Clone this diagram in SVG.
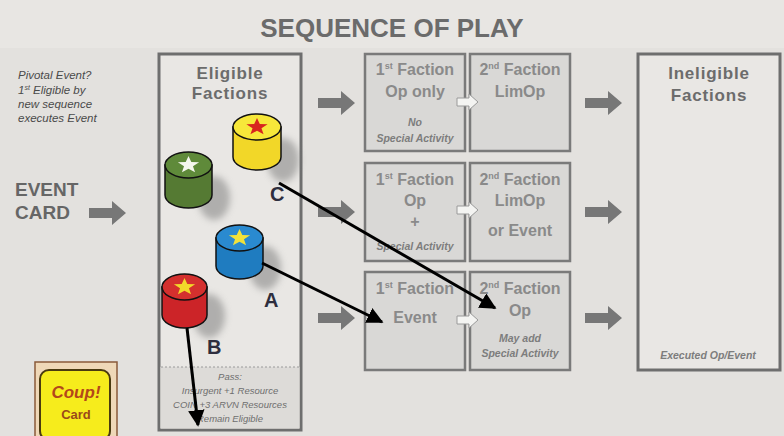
<svg xmlns="http://www.w3.org/2000/svg" width="784" height="436" viewBox="0 0 784 436">
<defs>
<style>
.bold{font-family:"Liberation Sans",Arial,sans-serif;font-weight:bold}
.box{fill:#d9d8d6;stroke:#7a7a7a;stroke-width:2.5}
.big{fill:#e9e7e4;stroke:#6e6e6e;stroke-width:3}
.bt{font-family:"Liberation Sans",Arial,sans-serif;font-weight:bold;font-size:16px;fill:#8a8a8a;text-anchor:middle}
.st{font-family:"Liberation Sans",Arial,sans-serif;font-weight:bold;font-style:italic;font-size:10.5px;fill:#7d7d7d;text-anchor:middle}
.ht{font-family:"Liberation Sans",Arial,sans-serif;font-weight:bold;font-size:17px;fill:#6c6c6c;text-anchor:middle;letter-spacing:0.8px}
.pt{font-family:"Liberation Sans",Arial,sans-serif;font-style:italic;font-size:9.5px;fill:#6e6e6e;text-anchor:middle}
.lt{font-family:"Liberation Sans",Arial,sans-serif;font-style:italic;font-size:11.5px;fill:#4a4a4a}
.lab{font-family:"Liberation Sans",Arial,sans-serif;font-weight:bold;font-size:20px;fill:#2e2e3e}
.ga{fill:#777}
.wa{fill:#f4f4f2;stroke:#9a9a9a;stroke-width:1}
.blk{stroke:#000;stroke-width:3;fill:none;marker-end:url(#ah)}
.cyl{stroke:#111;stroke-width:1.5}
</style>
<path id="garrow" d="M0,-5 H23 V-12 L37,0 L23,12 V5 H0 Z"/>
<path id="warrow" d="M0,-4 H12 V-8 L21,0 L12,8 V4 H0 Z"/>
<path id="star" d="M0,-14 L3.5,-4.8 L13.3,-4.3 L5.6,1.8 L8.2,11.3 L0,5.9 L-8.2,11.3 L-5.6,1.8 L-13.3,-4.3 L-3.5,-4.8 Z"/>
<marker id="ah" viewBox="0 0 10 10" refX="9" refY="5" markerWidth="5.5" markerHeight="5.5" orient="auto" markerUnits="strokeWidth">
<path d="M0,0 L10,5 L0,10 Z" fill="#000"/>
</marker>
<filter id="blur" x="-50%" y="-50%" width="200%" height="200%"><feGaussianBlur stdDeviation="3.5"/></filter>
</defs>

<rect x="0" y="0" width="784" height="436" fill="#e3e1de"/>
<rect x="0" y="0" width="784" height="48" fill="#e8e6e3"/>

<text class="bold" x="392" y="37" font-size="26" fill="#6b6b6b" text-anchor="middle">SEQUENCE OF PLAY</text>

<g id="pivotal">
<text class="lt" x="18" y="79" fill="#7e3535">Pivotal Event?</text>
<text class="lt" x="18" y="94">1<tspan font-size="7" dy="-4">st</tspan><tspan dy="4"> Eligible by</tspan></text>
<text class="lt" x="18" y="108">new sequence</text>
<text class="lt" x="18" y="122">executes Event</text>
</g>

<g id="event-card">
<text class="bold" x="15" y="196" font-size="19" fill="#666">EVENT</text>
<text class="bold" x="15" y="219" font-size="19" fill="#666">CARD</text>
</g>

<g id="coup-card">
<rect x="35" y="362" width="82" height="80" fill="#efd8b8" stroke="#8a5a3a" stroke-width="1.5"/>
<rect x="40" y="370" width="70" height="70" rx="9" fill="#f6ec1c" stroke="#4a3a10" stroke-width="2"/>
<text class="bold" x="76" y="398" font-size="17" font-style="italic" fill="#b3471a" text-anchor="middle">Coup!</text>
<text class="bold" x="76" y="419" font-size="13" fill="#9a4a1a" text-anchor="middle">Card</text>
</g>

<g id="eligible">
<rect class="big" x="159" y="54" width="142" height="376"/>
<rect x="160.5" y="367" width="139" height="61.5" fill="#dddbd8"/>
<line x1="161" y1="367" x2="299" y2="367" stroke="#9a9a9a" stroke-width="1" stroke-dasharray="2,2"/>
<text class="ht" x="230" y="79">Eligible</text>
<text class="ht" x="230" y="99">Factions</text>
<text class="pt" x="230" y="380">Pass:</text>
<text class="pt" x="230" y="394">Insurgent +1 Resource</text>
<text class="pt" x="230" y="408">COIN +3 ARVN Resources</text>
<text class="pt" x="230" y="422">Remain Eligible</text>
</g>

<g id="ineligible">
<rect class="big" x="638" y="54" width="142" height="316"/>
<text class="ht" x="709" y="79">Ineligible</text>
<text class="ht" x="709" y="101">Factions</text>
<text class="st" x="708" y="359" fill="#5e5e5e" font-size="11">Executed Op/Event</text>
</g>

<g id="row1-first">
<rect class="box" x="365" y="54" width="100" height="97"/>
<text class="bt" x="415" y="75">1<tspan font-size="9" dy="-6">st</tspan><tspan dy="6"> Faction</tspan></text>
<text class="bt" x="415" y="97">Op only</text>
<text class="st" x="415" y="126">No</text>
<text class="st" x="415" y="142">Special Activity</text>
</g>
<g id="row1-second">
<rect class="box" x="470" y="54" width="100" height="97"/>
<text class="bt" x="520" y="75">2<tspan font-size="9" dy="-6">nd</tspan><tspan dy="6"> Faction</tspan></text>
<text class="bt" x="520" y="97">LimOp</text>
</g>

<g id="row2-first">
<rect class="box" x="365" y="163" width="100" height="98"/>
<text class="bt" x="415" y="185">1<tspan font-size="9" dy="-6">st</tspan><tspan dy="6"> Faction</tspan></text>
<text class="bt" x="415" y="206">Op</text>
<text class="bt" x="415" y="227">+</text>
<text class="st" x="415" y="250">Special Activity</text>
</g>
<g id="row2-second">
<rect class="box" x="470" y="163" width="100" height="98"/>
<text class="bt" x="520" y="185">2<tspan font-size="9" dy="-6">nd</tspan><tspan dy="6"> Faction</tspan></text>
<text class="bt" x="520" y="206">LimOp</text>
<text class="bt" x="520" y="236" font-weight="normal">or Event</text>
</g>

<g id="row3-first">
<rect class="box" x="365" y="272" width="100" height="98"/>
<text class="bt" x="415" y="294">1<tspan font-size="9" dy="-6">st</tspan><tspan dy="6"> Faction</tspan></text>
<text class="bt" x="415" y="323">Event</text>
</g>
<g id="row3-second">
<rect class="box" x="470" y="272" width="100" height="98"/>
<text class="bt" x="520" y="294">2<tspan font-size="9" dy="-6">nd</tspan><tspan dy="6"> Faction</tspan></text>
<text class="bt" x="520" y="316">Op</text>
<text class="st" x="520" y="342">May add</text>
<text class="st" x="520" y="357">Special Activity</text>
</g>

<g id="cyl-yellow">
<ellipse cx="283" cy="160" rx="16" ry="22" fill="#777" opacity="0.5" filter="url(#blur)"/>
<path class="cyl" d="M233,127 V157 A24,13 0 0 0 281,157 V127 Z" fill="#f2d728"/>
<ellipse class="cyl" cx="257" cy="127" rx="24" ry="13" fill="#f7e83a"/>
<use href="#star" transform="translate(257,127) scale(0.8,0.65)" fill="#d8251f"/>
</g>
<g id="cyl-green">
<ellipse cx="214" cy="198" rx="16" ry="22" fill="#777" opacity="0.5" filter="url(#blur)"/>
<path class="cyl" d="M165,165 V195 A23.5,13 0 0 0 212,195 V165 Z" fill="#557a33"/>
<ellipse class="cyl" cx="188.5" cy="165" rx="23.5" ry="13" fill="#5f8a3a"/>
<use href="#star" transform="translate(188.5,165) scale(0.8,0.65)" fill="#f4f6ee"/>
</g>
<g id="cyl-blue">
<ellipse cx="265" cy="268" rx="16" ry="22" fill="#777" opacity="0.5" filter="url(#blur)"/>
<path class="cyl" d="M216,238 V266 A23.5,13 0 0 0 263,266 V238 Z" fill="#1f7cc0"/>
<ellipse class="cyl" cx="239.5" cy="238" rx="23.5" ry="13" fill="#2a8ad0"/>
<use href="#star" transform="translate(239.5,238) scale(0.8,0.65)" fill="#f2e23a"/>
</g>
<g id="cyl-red">
<ellipse cx="209" cy="316" rx="16" ry="22" fill="#777" opacity="0.5" filter="url(#blur)"/>
<path class="cyl" d="M162,287 V315 A22.5,13 0 0 0 207,315 V287 Z" fill="#cc2428"/>
<ellipse class="cyl" cx="184.5" cy="287" rx="22.5" ry="13" fill="#d4302e"/>
<use href="#star" transform="translate(184.5,287) scale(0.8,0.65)" fill="#f2d82a"/>
</g>

<g id="labels">
<text class="lab" x="270" y="201">C</text>
<text class="lab" x="264" y="307">A</text>
<text class="lab" x="207" y="354">B</text>
</g>

<g id="connectors">
<use href="#garrow" class="ga" x="89" y="213"/>
<use href="#garrow" class="ga" x="318" y="103"/>
<use href="#garrow" class="ga" x="318" y="212"/>
<use href="#garrow" class="ga" x="318" y="318"/>
<use href="#garrow" class="ga" x="585" y="103"/>
<use href="#garrow" class="ga" x="585" y="212"/>
<use href="#garrow" class="ga" x="585" y="318"/>
<use href="#warrow" class="wa" x="457" y="102"/>
<use href="#warrow" class="wa" x="457" y="210"/>
<use href="#warrow" class="wa" x="457" y="320"/>
<line class="blk" x1="279" y1="183" x2="495" y2="308"/>
<line class="blk" x1="262" y1="263" x2="382" y2="322"/>
<line class="blk" x1="187" y1="328" x2="198" y2="425"/>
</g>
</svg>
